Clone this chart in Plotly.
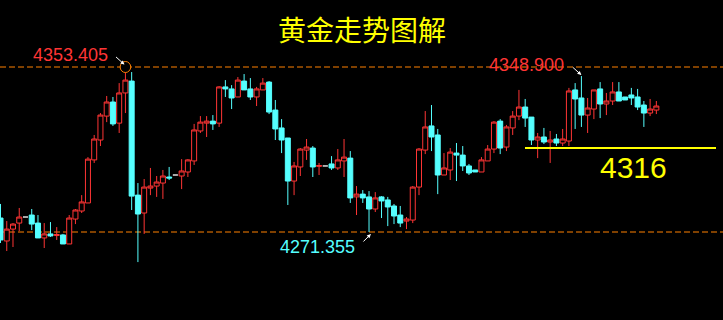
import plotly.graph_objects as go

# ---- data ----
opens = [4278.3, 4266.9, 4272.8, 4275.8, 4278.8, 4279.8, 4275.8, 4268.4, 4270.4, 4269.6,
         4269.9, 4265.4, 4277.8, 4281.8, 4285.8, 4307.2, 4317.1, 4329.0, 4336.0, 4325.5,
         4340.5, 4346.4, 4289.7, 4280.8, 4293.2, 4294.2, 4295.7, 4298.7, 4299.7, 4299.2,
         4301.2, 4306.7, 4321.6, 4325.5, 4326.5, 4325.5, 4343.5, 4342.5, 4338.5, 4346.4,
         4342.5, 4338.5, 4342.0, 4345.9, 4332.0, 4323.1, 4318.1, 4296.7, 4303.7, 4312.1,
         4313.1, 4304.0, 4304.2, 4305.2, 4303.2, 4306.7, 4308.1, 4288.8, 4290.2, 4288.8,
         4282.8, 4288.8, 4287.3, 4284.3, 4279.8, 4276.8, 4277.3, 4293.7, 4312.1, 4324.1,
         4319.6, 4299.7, 4302.2, 4310.6, 4309.6, 4304.2, 4302.2, 4301.2, 4306.7, 4312.6,
         4326.5, 4313.6, 4323.1, 4329.0, 4333.5, 4328.5, 4317.1, 4318.6, 4316.1, 4317.6,
         4315.6, 4316.6, 4342.0, 4338.0, 4329.5, 4332.5, 4342.5, 4335.0, 4336.5, 4341.0,
         4338.5, 4339.5, 4338.5, 4334.5, 4330.5, 4332.0]
highs = [4285.3, 4276.8, 4275.8, 4283.3, 4278.8, 4282.8, 4279.8, 4275.8, 4276.3, 4273.8,
         4270.4, 4279.8, 4282.8, 4289.7, 4308.6, 4319.6, 4330.5, 4339.0, 4338.5, 4345.4,
         4353.405, 4350.9, 4295.7, 4297.7, 4303.2, 4299.2, 4302.2, 4303.7, 4299.7, 4307.6,
         4307.6, 4325.1, 4329.0, 4329.0, 4329.5, 4343.9, 4346.9, 4344.4, 4348.4, 4349.9,
         4347.9, 4343.5, 4347.9, 4346.4, 4337.0, 4327.5, 4318.1, 4306.2, 4313.1, 4317.6,
         4314.1, 4305.7, 4304.2, 4309.1, 4312.6, 4317.6, 4311.6, 4294.2, 4292.2, 4291.7,
         4291.2, 4289.2, 4288.8, 4285.3, 4284.3, 4278.8, 4294.2, 4313.1, 4331.5, 4334.5,
         4322.6, 4310.6, 4313.1, 4315.6, 4314.1, 4305.2, 4302.2, 4308.6, 4314.6, 4326.5,
         4327.5, 4324.6, 4331.5, 4342.0, 4337.5, 4328.5, 4320.6, 4323.1, 4321.6, 4320.1,
         4322.6, 4343.0, 4345.4, 4348.9, 4338.0, 4342.0, 4345.9, 4340.5, 4345.9, 4345.9,
         4338.5, 4343.0, 4342.5, 4336.5, 4337.5, 4336.5]
lows = [4265.9, 4261.9, 4263.9, 4271.8, 4278.8, 4272.3, 4268.4, 4263.4, 4268.9, 4267.4,
        4265.4, 4265.4, 4275.3, 4280.8, 4285.8, 4305.7, 4314.1, 4326.0, 4324.1, 4320.6,
        4330.5, 4282.3, 4256.4, 4270.4, 4289.7, 4288.8, 4287.8, 4297.2, 4299.7, 4292.7,
        4298.7, 4304.7, 4320.6, 4318.6, 4322.1, 4323.6, 4338.5, 4332.5, 4338.5, 4342.0,
        4337.0, 4334.0, 4342.0, 4330.0, 4317.1, 4310.6, 4284.8, 4289.7, 4299.2, 4307.2,
        4298.7, 4299.7, 4304.2, 4302.2, 4302.2, 4298.7, 4285.8, 4279.8, 4285.8, 4271.355,
        4281.3, 4278.3, 4274.3, 4275.3, 4273.8, 4272.8, 4275.8, 4289.7, 4310.1, 4311.6,
        4290.2, 4299.7, 4297.2, 4296.7, 4301.7, 4299.7, 4301.2, 4301.2, 4306.7, 4310.6,
        4310.1, 4311.6, 4319.6, 4327.0, 4323.6, 4314.6, 4308.1, 4315.1, 4305.7, 4314.1,
        4314.1, 4314.1, 4322.6, 4323.6, 4320.6, 4327.5, 4328.0, 4329.5, 4334.5, 4336.5,
        4337.0, 4334.5, 4332.0, 4323.6, 4329.0, 4330.0]
closes = [4267.4, 4272.8, 4275.3, 4278.8, 4278.8, 4275.3, 4268.4, 4270.4, 4269.4, 4270.1,
          4265.4, 4278.3, 4282.3, 4286.3, 4307.6, 4317.6, 4329.5, 4336.0, 4325.1, 4340.5,
          4346.9, 4289.2, 4280.3, 4293.7, 4294.2, 4296.2, 4299.2, 4298.2, 4299.7, 4301.7,
          4307.2, 4322.1, 4326.0, 4326.5, 4325.1, 4343.5, 4342.5, 4338.0, 4346.9, 4342.0,
          4338.5, 4342.5, 4345.4, 4331.0, 4322.6, 4317.1, 4296.7, 4304.2, 4312.6, 4313.6,
          4303.7, 4304.4, 4304.2, 4303.2, 4307.2, 4308.6, 4288.3, 4290.2, 4288.3, 4282.8,
          4288.3, 4286.8, 4283.8, 4279.3, 4275.8, 4277.8, 4293.7, 4312.6, 4323.6, 4318.6,
          4299.7, 4303.2, 4311.1, 4309.6, 4304.2, 4300.7, 4301.2, 4307.2, 4312.6, 4326.0,
          4313.1, 4323.6, 4329.0, 4333.5, 4328.0, 4317.1, 4318.6, 4316.1, 4317.1, 4315.6,
          4317.6, 4341.5, 4337.5, 4329.5, 4333.0, 4342.0, 4335.0, 4336.5, 4341.0, 4336.5,
          4337.0, 4338.0, 4333.5, 4330.5, 4332.5, 4334.0]

title_text = "黄金走势图解"
high_label = "4353.405"
high2_label = "4348.900"
low_label = "4271.355"
level_value = 4313.1
level_label = "4316"
ref_high = 4353.405
ref_low = 4271.355

idx = list(range(len(opens)))
doji = [i for i in idx if opens[i] == closes[i]]
main = [i for i in idx if i not in doji]

RED = "#ff3535"
CYAN = "#55ffff"
ORANGE = "#ff8000"
YELLOW = "#ffff00"

fig = go.Figure()
fig.add_trace(go.Candlestick(
    x=main,
    open=[opens[i] for i in main], high=[highs[i] for i in main],
    low=[lows[i] for i in main], close=[closes[i] for i in main],
    increasing=dict(line=dict(color=RED, width=1), fillcolor="#000000"),
    decreasing=dict(line=dict(color=CYAN, width=1), fillcolor=CYAN),
    whiskerwidth=0, hoverinfo="skip", showlegend=False,
))
fig.add_trace(go.Candlestick(
    x=doji,
    open=[opens[i] for i in doji], high=[highs[i] for i in doji],
    low=[lows[i] for i in doji], close=[closes[i] for i in doji],
    increasing=dict(line=dict(color="#c0c0c0", width=1), fillcolor="#c0c0c0"),
    decreasing=dict(line=dict(color="#c0c0c0", width=1), fillcolor="#c0c0c0"),
    whiskerwidth=0, hoverinfo="skip", showlegend=False,
))

shapes = []
for v in (ref_high, ref_low):
    shapes.append(dict(type="line", xref="paper", x0=0, x1=1, yref="y", y0=v, y1=v,
                       line=dict(color=ORANGE, width=1, dash="6px,3px"), layer="below"))
# support line
shapes.append(dict(type="line", xref="x", x0=83.97, x1=114.55, yref="y",
                   y0=level_value, y1=level_value, line=dict(color=YELLOW, width=2)))
# circle at the top
i_hi = highs.index(max(highs))
shapes.append(dict(type="circle", xref="x", yref="y", xsizemode="pixel", ysizemode="pixel",
                   xanchor=i_hi, yanchor=ref_high, x0=-5.3, x1=5.3, y0=-5.5, y1=5.5,
                   line=dict(color=ORANGE, width=1), fillcolor="#000000"))

i_lo = lows.index(ref_low)
i_hi2 = highs.index(4348.9)
annotations = [
    dict(text=title_text, xref="paper", yref="paper", x=0.5, y=1 - 29 / 320,
         xanchor="center", yanchor="middle", showarrow=False,
         font=dict(family="Noto Sans CJK SC", size=28, color=YELLOW)),
    dict(text=high_label, x=i_hi - 2.4, y=ref_high + 6, xanchor="right", yanchor="middle",
         showarrow=False, font=dict(family="Liberation Sans", size=18, color=RED)),
    dict(text=high2_label, x=i_hi2 - 2.4, y=4354.4, xanchor="right", yanchor="middle",
         showarrow=False, font=dict(family="Liberation Sans", size=18, color=RED)),
    dict(text=low_label, x=i_lo - 1.9, y=4263.9, xanchor="right", yanchor="middle",
         showarrow=False, font=dict(family="Liberation Sans", size=18, color=CYAN)),
    dict(text=level_label, x=101.3, y=level_value - 9.5, xanchor="center", yanchor="middle",
         showarrow=False, font=dict(family="Liberation Sans", size=30, color=YELLOW)),
    # arrows
    dict(text="", x=i_hi - 0.15, y=ref_high + 1.2, ax=-10, ay=-9, showarrow=True,
         arrowhead=2, arrowsize=0.8, arrowwidth=1, arrowcolor="#ffffff"),
    dict(text="", x=i_hi2, y=highs[i_hi2] + 0.5, ax=-10, ay=-9, showarrow=True,
         arrowhead=2, arrowsize=0.8, arrowwidth=1, arrowcolor="#ffffff"),
    dict(text="", x=i_lo + 0.3, y=ref_low - 1.0, ax=-9, ay=9, showarrow=True,
         arrowhead=2, arrowsize=0.8, arrowwidth=1, arrowcolor="#ffffff"),
]

fig.update_layout(
    width=723, height=320, margin=dict(l=0, r=0, t=0, b=0),
    paper_bgcolor="#000000", plot_bgcolor="#000000",
    shapes=shapes, annotations=annotations, showlegend=False,
    boxgap=0.2, boxgroupgap=0,
    xaxis=dict(range=[-0.08, 115.67], visible=False, showgrid=False, zeroline=False,
               rangeslider=dict(visible=False), fixedrange=True),
    yaxis=dict(range=[4227.6, 4386.72], visible=False, showgrid=False, zeroline=False,
               fixedrange=True),
)
fig.write_html("out.html", config={"displayModeBar": False})
